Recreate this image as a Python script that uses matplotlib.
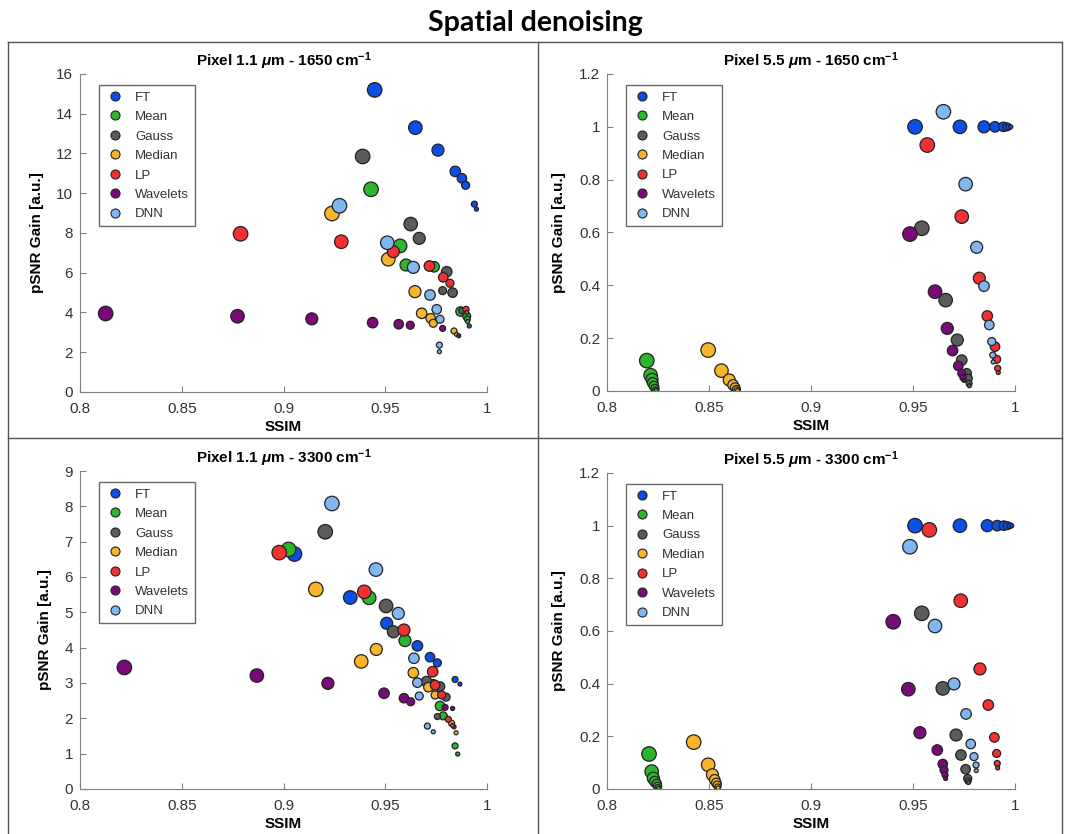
import numpy as np
import matplotlib.pyplot as plt
from matplotlib.lines import Line2D

methods = ['FT', 'Mean', 'Gauss', 'Median', 'LP', 'Wavelets', 'DNN']
colors = ['#0b4fe6', '#2db52d', '#5b5b5b', '#f7b52c', '#f23232', '#7a0a7a', '#80b6f2']

# marker diameter (px) for the 8 parameter settings of every method
diam_px = [14.5, 13.5, 12, 10.5, 9.5, 8, 6, 4]

# ---- Pixel 1.1 um - 1650 cm-1
p1_x = {
    'FT':       [0.9448, 0.9648, 0.9759, 0.9844, 0.9877, 0.9895, 0.9938, 0.9948],
    'Mean':     [0.9430, 0.9573, 0.9602, 0.9740, 0.9870, 0.9900, 0.9903, 0.9905],
    'Gauss':    [0.9389, 0.9625, 0.9667, 0.9802, 0.9831, 0.9782, 0.9876, 0.9913],
    'Median':   [0.9238, 0.9515, 0.9646, 0.9679, 0.9723, 0.9736, 0.9838, 0.9850],
    'LP':       [0.8789, 0.9284, 0.9540, 0.9717, 0.9785, 0.9818, 0.9897, 0.9900],
    'Wavelets': [0.8126, 0.8774, 0.9139, 0.9438, 0.9566, 0.9623, 0.9782, 0.9861],
    'DNN':      [0.9275, 0.9510, 0.9638, 0.9720, 0.9753, 0.9769, 0.9766, 0.9766],
}
p1_y = {
    'FT':       [15.2, 13.3, 12.17, 11.1, 10.75, 10.4, 9.45, 9.2],
    'Mean':     [10.2, 7.35, 6.39, 6.30, 4.05, 3.82, 3.67, 3.55],
    'Gauss':    [11.85, 8.45, 7.73, 6.05, 5.0, 5.1, 4.09, 3.32],
    'Median':   [8.98, 6.68, 5.05, 3.96, 3.71, 3.46, 3.07, 2.9],
    'LP':       [7.96, 7.56, 7.06, 6.34, 5.77, 5.47, 4.16, 4.0],
    'Wavelets': [3.95, 3.81, 3.68, 3.49, 3.41, 3.36, 3.2, 2.83],
    'DNN':      [9.37, 7.51, 6.27, 4.88, 4.16, 3.66, 2.36, 2.03],
}

# ---- Pixel 5.5 um - 1650 cm-1
p2_x = {
    'FT':       [0.9510, 0.9730, 0.9848, 0.9902, 0.9943, 0.9960, 0.9970, 0.9979],
    'Mean':     [0.8195, 0.8214, 0.8221, 0.8224, 0.8230, 0.8235, 0.8239, 0.8241],
    'Gauss':    [0.9543, 0.9660, 0.9717, 0.9739, 0.9763, 0.9771, 0.9775, 0.9776],
    'Median':   [0.8496, 0.8561, 0.8599, 0.8618, 0.8628, 0.8634, 0.8637, 0.8640],
    'LP':       [0.9570, 0.9739, 0.9825, 0.9864, 0.9902, 0.9910, 0.9915, 0.9918],
    'Wavelets': [0.9485, 0.9608, 0.9668, 0.9694, 0.9722, 0.9739, 0.9745, 0.9750],
    'DNN':      [0.9649, 0.9758, 0.9812, 0.9848, 0.9874, 0.9886, 0.9891, 0.9893],
}
p2_y = {
    'FT':       [1.0, 1.0, 1.0, 1.0, 1.0, 1.0, 1.0, 1.0],
    'Mean':     [0.115, 0.060, 0.044, 0.031, 0.019, 0.010, 0.004, 0.002],
    'Gauss':    [0.616, 0.344, 0.193, 0.117, 0.067, 0.048, 0.029, 0.020],
    'Median':   [0.155, 0.077, 0.042, 0.023, 0.013, 0.006, 0.003, 0.001],
    'LP':       [0.931, 0.660, 0.427, 0.284, 0.168, 0.120, 0.086, 0.070],
    'Wavelets': [0.594, 0.376, 0.237, 0.153, 0.095, 0.067, 0.050, 0.040],
    'DNN':      [1.057, 0.783, 0.544, 0.397, 0.250, 0.187, 0.136, 0.110],
}

# ---- Pixel 1.1 um - 3300 cm-1
p3_x = {
    'FT':       [0.9054, 0.9328, 0.9507, 0.9658, 0.9720, 0.9756, 0.9843, 0.9867],
    'Mean':     [0.9025, 0.9421, 0.9597, 0.9735, 0.9769, 0.9785, 0.9843, 0.9856],
    'Gauss':    [0.9205, 0.9504, 0.9540, 0.9703, 0.9769, 0.9799, 0.9756, 0.9838],
    'Median':   [0.9159, 0.9382, 0.9456, 0.9638, 0.9712, 0.9745, 0.9826, 0.9848],
    'LP':       [0.8979, 0.9397, 0.9592, 0.9733, 0.9745, 0.9777, 0.9810, 0.9831],
    'Wavelets': [0.8218, 0.8869, 0.9218, 0.9494, 0.9592, 0.9625, 0.9794, 0.9831],
    'DNN':      [0.9238, 0.9454, 0.9564, 0.9641, 0.9658, 0.9667, 0.9707, 0.9736],
}
p3_y = {
    'FT':       [6.65, 5.42, 4.69, 4.05, 3.73, 3.57, 3.10, 2.97],
    'Mean':     [6.78, 5.41, 4.20, 2.95, 2.35, 2.07, 1.22, 0.99],
    'Gauss':    [7.28, 5.18, 4.45, 3.04, 2.90, 2.60, 2.05, 1.76],
    'Median':   [5.65, 3.61, 3.95, 3.29, 2.88, 2.66, 1.86, 1.59],
    'LP':       [6.69, 5.58, 4.50, 3.32, 2.94, 2.66, 1.97, 1.80],
    'Wavelets': [3.44, 3.21, 2.99, 2.71, 2.57, 2.47, 2.31, 2.28],
    'DNN':      [8.08, 6.21, 4.97, 3.70, 3.01, 2.63, 1.78, 1.62],
}

# ---- Pixel 5.5 um - 3300 cm-1
p4_x = {
    'FT':       [0.9510, 0.9730, 0.9864, 0.9913, 0.9945, 0.9962, 0.9975, 0.9984],
    'Mean':     [0.8206, 0.8219, 0.8227, 0.8235, 0.8244, 0.8248, 0.8250, 0.8252],
    'Gauss':    [0.9543, 0.9646, 0.9711, 0.9735, 0.9758, 0.9768, 0.9770, 0.9772],
    'Median':   [0.8425, 0.8496, 0.8517, 0.8528, 0.8536, 0.8540, 0.8543, 0.8545],
    'LP':       [0.9580, 0.9734, 0.9828, 0.9869, 0.9899, 0.9910, 0.9913, 0.9915],
    'Wavelets': [0.9403, 0.9477, 0.9534, 0.9619, 0.9646, 0.9652, 0.9657, 0.9660],
    'DNN':      [0.9485, 0.9608, 0.9701, 0.9760, 0.9783, 0.9799, 0.9809, 0.9810],
}
p4_y = {
    'FT':       [1.0, 1.0, 1.0, 1.0, 1.0, 1.0, 1.0, 1.0],
    'Mean':     [0.133, 0.066, 0.041, 0.028, 0.019, 0.011, 0.006, 0.003],
    'Gauss':    [0.667, 0.382, 0.205, 0.129, 0.075, 0.040, 0.030, 0.025],
    'Median':   [0.178, 0.092, 0.054, 0.035, 0.023, 0.015, 0.008, 0.004],
    'LP':       [0.984, 0.715, 0.456, 0.319, 0.196, 0.135, 0.097, 0.080],
    'Wavelets': [0.635, 0.379, 0.214, 0.148, 0.095, 0.072, 0.053, 0.040],
    'DNN':      [0.920, 0.619, 0.399, 0.285, 0.171, 0.123, 0.091, 0.070],
}

panels = [
    (r'Pixel 1.1 $\mu$m - 1650 cm$^{-1}$', p1_x, p1_y, 16, 2),
    (r'Pixel 5.5 $\mu$m - 1650 cm$^{-1}$', p2_x, p2_y, 1.2, 0.2),
    (r'Pixel 1.1 $\mu$m - 3300 cm$^{-1}$', p3_x, p3_y, 9, 1),
    (r'Pixel 5.5 $\mu$m - 3300 cm$^{-1}$', p4_x, p4_y, 1.2, 0.2),
]

plt.rcParams['font.family'] = ['Liberation Sans', 'DejaVu Sans']
plt.rcParams['mathtext.fontset'] = 'custom'
plt.rcParams['mathtext.it'] = 'Liberation Sans:italic:bold'
plt.rcParams['mathtext.rm'] = 'Liberation Sans:bold'

fig = plt.figure(figsize=(10.7, 8.34), dpi=100)
fig.text(0.5, 0.973, 'Spatial denoising', ha='center', va='center',
         fontsize=20.5, fontweight='bold', family='Lato')

# frame around the panels
W, H = 1070, 834
fx = lambda px: px / W
fy = lambda py: 1 - py / H
for (x0, y0, x1, y1) in [(8, 42, 1062, 42), (8, 42, 8, 834), (1062, 42, 1062, 834),
                         (538, 42, 538, 834), (8, 438, 1062, 438)]:
    fig.add_artist(Line2D([fx(x0), fx(x1)], [fy(y0), fy(y1)], color='#555555', lw=1))

boxes = [(80, 74, 487, 392), (607, 74, 1015, 391), (80, 471, 487, 789), (607, 473, 1015, 789)]
sizes = [(d * 0.72) ** 2 for d in diam_px]

for (title, xs, ys, ymax, ystep), (l, t, r, b) in zip(panels, boxes):
    ax = fig.add_axes([fx(l), fy(b), (r - l) / W, (b - t) / H])
    for m, c in zip(methods, colors):
        ax.scatter(xs[m], ys[m], s=sizes, c=c, edgecolors='#222222', linewidths=0.9,
                   zorder=3, label=m)
    ax.set_xlim(0.8, 1.0)
    ax.set_ylim(0, ymax)
    ax.set_xticks([0.8, 0.85, 0.9, 0.95, 1.0])
    ax.set_xticklabels(['0.8', '0.85', '0.9', '0.95', '1'])
    yt = np.arange(0, ymax + ystep / 2, ystep)
    ax.set_yticks(yt)
    ax.set_yticklabels(['%g' % v for v in yt])
    for s in ['top', 'right']:
        ax.spines[s].set_visible(False)
    for s in ['left', 'bottom']:
        ax.spines[s].set_color('#808080')
    ax.tick_params(direction='in', length=4, color='#808080', labelcolor='#333333',
                   labelsize=11)
    ax.tick_params(axis='x', pad=7)
    ax.tick_params(axis='y', pad=5)
    ax.set_title(title, fontsize=11, fontweight='bold', pad=6)
    ax.set_xlabel('SSIM', fontsize=11, fontweight='bold', labelpad=3)
    ax.set_ylabel('pSNR Gain [a.u.]', fontsize=11, fontweight='bold', labelpad=9)
    handles = [Line2D([], [], ls='none', marker='o', ms=6.5, mfc=c, mec='#222222', mew=0.8)
               for c in colors]
    leg = ax.legend(handles, methods, loc='upper left', bbox_to_anchor=(0.03, 0.985),
                    fontsize=9.5, frameon=True, fancybox=False, handletextpad=0.8,
                    labelspacing=0.55, borderpad=0.45, handlelength=1.5)
    leg.get_frame().set_edgecolor('#444444')
    leg.get_frame().set_linewidth(1)
    for txt in leg.get_texts():
        txt.set_color('#333333')

fig.savefig('out.png', dpi=100)
